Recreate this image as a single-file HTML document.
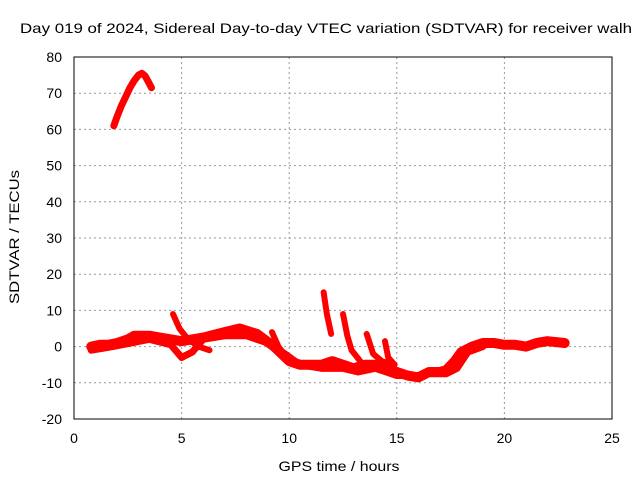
<!DOCTYPE html>
<html><head><meta charset="utf-8"><style>
body{margin:0;background:#fff;}
svg{display:block;font-family:"Liberation Sans",sans-serif;}
</style></head><body>
<svg id="chart" width="640" height="480">
<text x="326" y="33" font-size="14" text-anchor="middle" textLength="612" lengthAdjust="spacingAndGlyphs">Day 019 of 2024, Sidereal Day-to-day VTEC variation (SDTVAR) for receiver walh</text>
<text x="339" y="471" font-size="14" text-anchor="middle" textLength="121" lengthAdjust="spacingAndGlyphs">GPS time / hours</text>
<text transform="translate(19,237) rotate(-90)" font-size="14" text-anchor="middle" textLength="134" lengthAdjust="spacingAndGlyphs">SDTVAR / TECUs</text>
<g id="grid"></g><g id="ticks"></g><g id="series"></g>
<rect x="74" y="57" width="538" height="362" fill="none" stroke="#000" stroke-width="1"/>
</svg>
<script>
const xTicks=[0,5,10,15,20,25];
const yTicks=[-20,-10,0,10,20,30,40,50,60,70,80];
const arcX=[1.85,2.0,2.2,2.4,2.6,2.8,3.0,3.15,3.3,3.45,3.6];
const arcY=[61,63.5,66.5,69,71.5,73.5,75,75.5,74.8,73.2,71.5];
const mainX=[0.8,1.2,1.6,2.0,2.5,2.8,3.5,4.0,5.0,6.0,7.0,7.7,8.5,9.3,10.0,10.5,11.0,11.5,12.0,12.5,13.0,13.5,14.0,15.0,15.5,16.0,16.5,17.0,17.3,17.7,18.0,18.5,19.0,19.5,20.0,20.5,21.0,21.5,22.0,22.8];
const mainY=[0,0.5,0.5,1,2,3,3,2.5,1.5,2.5,4,5,3.5,0,-4,-5,-5,-5,-4,-5,-6,-5,-5,-7,-8,-8.5,-7,-7,-6.5,-4,-1.5,0,1,1,0.5,0.5,0,1,1.5,1];
const lowX=[0.8,1.3,1.8,3.5,4.5,5.0,5.5,6.0,7.0,8.0,9.0,9.8,10.5,11.5,12.0,12.5,13.2,14.0,15.0,16.0,16.5,17.3,17.8,18.3,19.0];
const lowY=[-1,-0.5,0,2,0.5,-3,-1.5,2,3,3,1,-2,-5,-6,-6,-6,-7,-6,-8,-8,-7.5,-7.5,-6,-1.5,0];
const s1X=[4.6,4.9,5.3,5.8,6.3];const s1Y=[9,5,2,0,-1];
const s2X=[9.2,9.5,10.0];const s2Y=[4,0,-4];
const s3X=[11.6,11.75,11.95];const s3Y=[15,9,3.5];
const s4X=[12.5,12.7,12.9,13.3];const s4Y=[9,3,-1,-4];
const s5X=[13.6,13.9,14.3,14.8];const s5Y=[3.5,-2,-4,-5];
const s6X=[14.45,14.6,14.9];const s6Y=[1.5,-3,-5];
const sx=v=>74+v*538/25, sy=v=>419-(v+20)*362/100;
const NS='http://www.w3.org/2000/svg';
const g=document.getElementById('grid'),t=document.getElementById('ticks'),s=document.getElementById('series');
xTicks.forEach(v=>{
 if(v>0&&v<25){const l=document.createElementNS(NS,'line');l.setAttribute('x1',sx(v));l.setAttribute('x2',sx(v));l.setAttribute('y1',57);l.setAttribute('y2',419);l.setAttribute('stroke','#999');l.setAttribute('stroke-dasharray','2,3');
 
 g.appendChild(l);}
 const tx=document.createElementNS(NS,'text');tx.setAttribute('x',sx(v));tx.setAttribute('y',443);tx.setAttribute('font-size','14');tx.setAttribute('text-anchor','middle');tx.textContent=v;
 
 t.appendChild(tx);
});
yTicks.forEach(v=>{
 if(v>-20&&v<80){const l=document.createElementNS(NS,'line');l.setAttribute('x1',74);l.setAttribute('x2',612);l.setAttribute('y1',sy(v));l.setAttribute('y2',sy(v));l.setAttribute('stroke','#999');l.setAttribute('stroke-dasharray','2,3');
 
 g.appendChild(l);}
 const tx=document.createElementNS(NS,'text');tx.setAttribute('x',62);tx.setAttribute('y',sy(v)+5);tx.setAttribute('font-size','14');tx.setAttribute('text-anchor','end');tx.textContent=v;
 
 t.appendChild(tx);
});
function draw(xs,ys,w,name){
 const p=document.createElementNS(NS,'polyline');
 p.setAttribute('points',xs.map((x,i)=>sx(x)+','+sy(ys[i])).join(' '));
 p.setAttribute('fill','none');p.setAttribute('stroke','#f00');p.setAttribute('stroke-width',w);p.setAttribute('stroke-linejoin','round');p.setAttribute('stroke-linecap','round');
 
 
 s.appendChild(p);
}
draw(arcX,arcY,7,'series-arc');
draw(mainX,mainY,10,'series-main');
draw(lowX,lowY,7,'series-lower');
draw(s1X,s1Y,6,'spike-1');draw(s2X,s2Y,6,'spike-2');draw(s3X,s3Y,6,'spike-3');
draw(s4X,s4Y,6,'spike-4');draw(s5X,s5Y,6,'spike-5');draw(s6X,s6Y,6,'spike-6');
</script>
</body></html>
